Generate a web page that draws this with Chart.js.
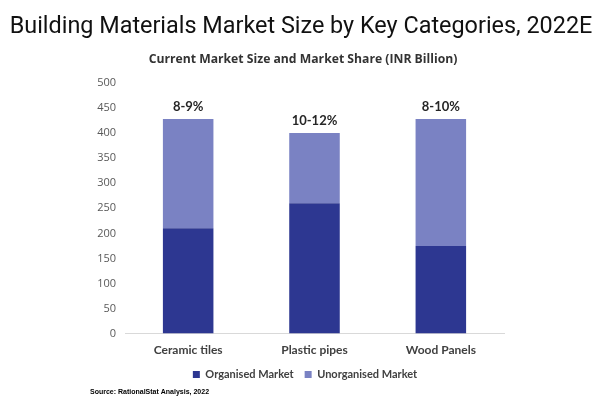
<!DOCTYPE html>
<html>
<head>
<meta charset="utf-8">
<script src="https://cdn.jsdelivr.net/npm/chart.js@4"></script>
<style>
html,body{margin:0;padding:0;background:#fff;}
#wrap{width:600px;height:407px;}
</style>
</head>
<body>
<div id="wrap"><canvas id="chart" width="600" height="407"></canvas></div>
<script>
// data
const categories = ['Ceramic tiles', 'Plastic pipes', 'Wood Panels'];
const organised = [210, 260, 175];
const unorganised = [218, 140, 253];
const shareLabels = ['8-9%', '10-12%', '8-10%'];
const yTicks = [0, 50, 100, 150, 200, 250, 300, 350, 400, 450, 500];

const titleText = 'Building Materials Market Size by Key Categories, 2022E';
const subtitleText = 'Current Market Size and Market Share (INR Billion)';
const sourceText = 'Source: RationalStat Analysis, 2022';

const textDark = '#404040';

// headings and source note (drawn by hand so they are not squeezed by the layout padding)
const textPlugin = {
  id: 'headings',
  afterDraw(chart){
    const ctx = chart.ctx;
    ctx.save();
    ctx.textAlign = 'center';
    ctx.textBaseline = 'middle';
    ctx.fillStyle = '#111';
    ctx.font = '23.4px Roboto, sans-serif';
    ctx.fillText(titleText, 301, 27);
    ctx.fillStyle = '#333';
    ctx.font = 'bold 12.2px "Open Sans", sans-serif';
    ctx.fillText(subtitleText, 303, 60);
    ctx.textAlign = 'left';
    ctx.fillStyle = '#000';
    ctx.font = 'bold 7px "Liberation Sans", sans-serif';
    ctx.fillText(sourceText, 90, 392);
    ctx.restore();
  }
};

// share labels above each stacked bar
const shareLabelPlugin = {
  id: 'shareLabels',
  afterDatasetsDraw(chart){
    const ctx = chart.ctx;
    const meta = chart.getDatasetMeta(1);
    ctx.save();
    ctx.font = 'bold 13px Lato, sans-serif';
    ctx.fillStyle = '#262626';
    ctx.textAlign = 'center';
    ctx.textBaseline = 'bottom';
    meta.data.forEach((bar, i) => {
      ctx.fillText(shareLabels[i], bar.x, bar.y - 6);
    });
    ctx.restore();
  }
};

// nudge the legend a little right, as in the reference
const legendShift = {
  id: 'legendShift',
  afterLayout(chart){
    if(chart.legend){ chart.legend.left += 12; chart.legend.right += 12; }
  }
};

const bgPlugin = {
  id: 'bg',
  beforeDraw(chart){
    const ctx = chart.ctx;
    ctx.save();
    ctx.fillStyle = '#fff';
    ctx.fillRect(0, 0, chart.width, chart.height);
    ctx.restore();
  }
};

const ctx = document.getElementById('chart').getContext('2d');
new Chart(ctx, {
  type: 'bar',
  data: {
    labels: categories,
    datasets: [
      {label: 'Organised Market', data: organised, backgroundColor: '#2d3791', borderWidth: 0,
       barPercentage: 0.5, categoryPercentage: 0.8},
      {label: 'Unorganised Market', data: unorganised, backgroundColor: '#7a82c3', borderWidth: 0,
       barPercentage: 0.5, categoryPercentage: 0.8}
    ]
  },
  options: {
    responsive: false,
    animation: false,
    layout: {padding: {left: 82, right: 96, top: 83, bottom: 17}},
    scales: {
      x: {
        stacked: true,
        grid: {display: false},
        border: {color: '#d9d9d9'},
        ticks: {color: textDark, font: {family: 'Lato, sans-serif', size: 12, weight: 'bold'}, padding: 1}
      },
      y: {
        stacked: true,
        min: 0, max: 500,
        afterBuildTicks(axis){ axis.ticks = yTicks.map(v => ({value: v})); },
        afterFit(axis){ axis.width = 43; },
        grid: {display: false, drawTicks: false},
        border: {display: false},
        ticks: {color: '#595959', font: {family: '"Open Sans", sans-serif', size: 11}, padding: 9}
      }
    },
    plugins: {
      title: {display: false},
      legend: {
        position: 'bottom',
        labels: {
          boxWidth: 7, boxHeight: 7, color: textDark,
          font: {family: 'Lato, sans-serif', size: 11, weight: 'bold'},
          padding: 11
        }
      },
      tooltip: {enabled: false}
    }
  },
  plugins: [bgPlugin, legendShift, shareLabelPlugin, textPlugin]
});
</script>
</body>
</html>
